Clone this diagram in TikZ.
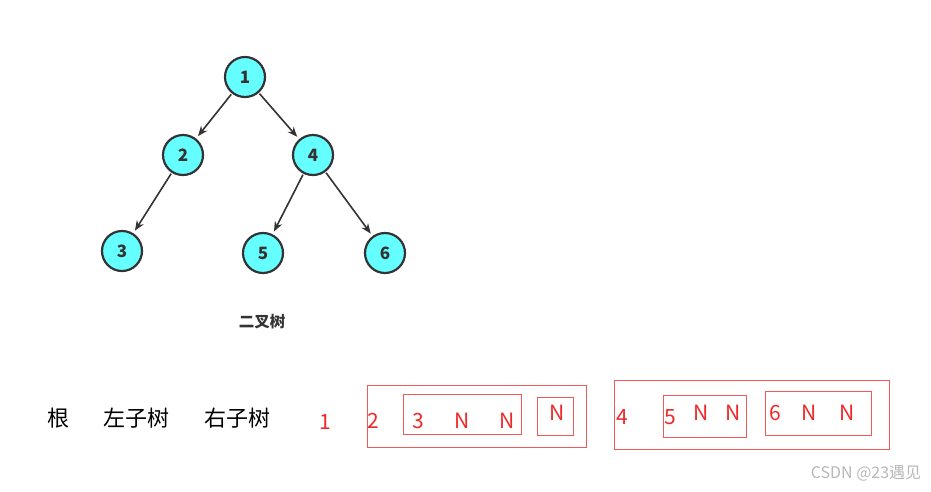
\documentclass[tikz,border=0pt]{standalone}
\usepackage{fontspec}
\setmainfont{Noto Sans}
\newfontfamily\cjk{Noto Sans CJK SC}
\usetikzlibrary{arrows.meta}
\definecolor{nodecyan}{HTML}{66FFFF}
\definecolor{edgegray}{HTML}{333333}
\definecolor{boxred}{HTML}{F25A5A}
\definecolor{txtred}{HTML}{F02828}
\tikzset{
  treenode/.style={circle, draw=edgegray, line width=2.2pt, fill=nodecyan, minimum size=40pt, inner sep=0pt, text=edgegray, font=\cjk\fontsize{17}{17}\selectfont\bfseries},
  treeedge/.style={draw=edgegray, line width=1.6pt, -{Stealth[length=10pt,width=8pt]}, shorten >=3pt, shorten <=1pt},
  redbox/.style={draw=boxred, line width=0.9pt, inner sep=0pt},
  redtxt/.style={text=txtred, inner sep=0pt, font=\cjk\fontsize{21}{21}\selectfont},
  blktxt/.style={text=black, inner sep=0pt, font=\cjk\fontsize{22}{22}\selectfont}
}
\begin{document}
\begin{tikzpicture}[x=1pt,y=-1pt]
\useasboundingbox (0,0) rectangle (931,491);
\fill[white] (0,0) rectangle (931,491);
% tree
\node[treenode] (n1) at (245,77) {1};
\node[treenode] (n2) at (183,155) {2};
\node[treenode] (n4) at (313,155) {4};
\node[treenode] (n3) at (122,251) {3};
\node[treenode] (n5) at (263,253) {5};
\node[treenode] (n6) at (385,253) {6};
\draw[treeedge] (n1) -- (n2);
\draw[treeedge] (n1) -- (n4);
\draw[treeedge] (n2) -- (n3);
\draw[treeedge] (n4) -- (n5);
\draw[treeedge] (n4) -- (n6);
\node[inner sep=0pt, text=edgegray, font=\cjk\fontsize{15.5}{15.5}\selectfont\bfseries] (title) at (262,322) {二叉树};
% bottom row
\node[blktxt] (gen) at (58,418) {根};
\node[blktxt] (zuo) at (136,418) {左子树};
\node[blktxt] (you) at (237,418) {右子树};
\node[redtxt] (r1) at (325,422) {1};
% box A
\node[redbox, minimum width=219pt, minimum height=62pt] (boxA) at (476.5,416) {};
\node[redtxt] (r2) at (373,421) {2};
\node[redbox, minimum width=118pt, minimum height=40pt] (boxA1) at (462,414) {};
\node[redtxt] (r3) at (418,421) {3};
\node[redtxt] (r3a) at (462,421) {N};
\node[redtxt] (r3b) at (507,421) {N};
\node[redbox, minimum width=36pt, minimum height=38pt] (boxA2) at (555,416) {};
\node[redtxt] (rN) at (557,413) {N};
% box B
\node[redbox, minimum width=275pt, minimum height=69pt] (boxB) at (751.5,414.5) {};
\node[redtxt] (r4) at (622,417) {4};
\node[redbox, minimum width=83pt, minimum height=42pt] (boxB1) at (704.5,416) {};
\node[redtxt] (r5) at (670,417) {5};
\node[redtxt] (r5a) at (701,413) {N};
\node[redtxt] (r5b) at (733,413) {N};
\node[redbox, minimum width=106pt, minimum height=44pt] (boxB2) at (818,413) {};
\node[redtxt] (r6) at (775,413) {6};
\node[redtxt] (r6a) at (809,413) {N};
\node[redtxt] (r6b) at (847,413) {N};
% watermark
\node[inner sep=0pt, text=black!28, font=\cjk\fontsize{16}{16}\selectfont] (wm) at (866,473) {CSDN @23遇见};
\end{tikzpicture}
\end{document}
